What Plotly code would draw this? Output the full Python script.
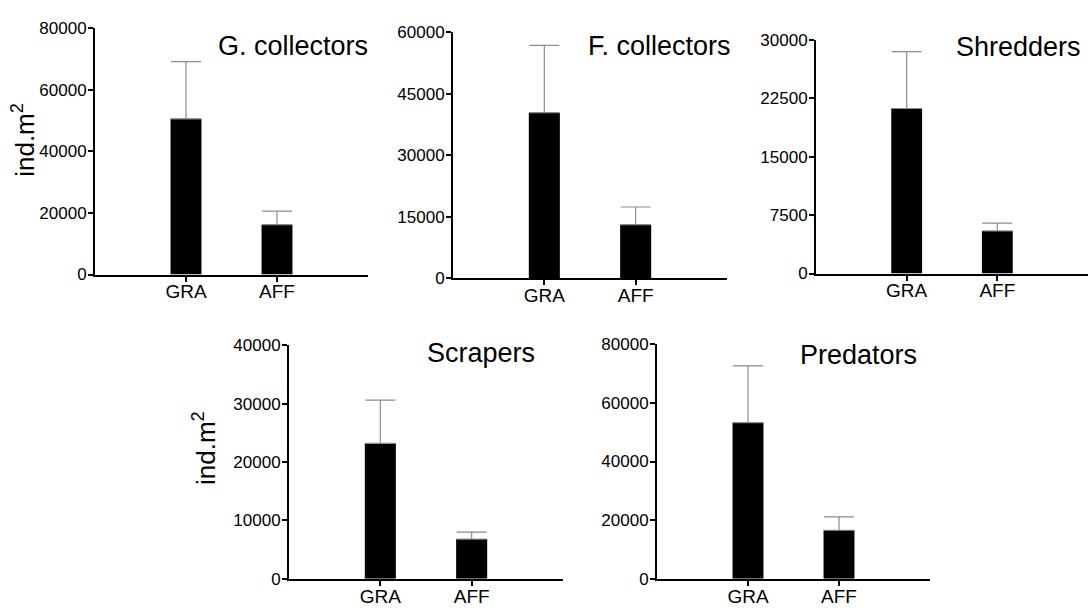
import plotly.graph_objects as go

# ---------------- data ----------------
categories = ["GRA", "AFF"]
panel_titles = ["G. collectors", "F. collectors", "Shredders", "Scrapers", "Predators"]

g_collectors = [50600, 16200]
g_collectors_err = [18600, 4400]
f_collectors = [40400, 13100]
f_collectors_err = [16400, 4300]
shredders = [21200, 5480]
shredders_err = [7300, 1000]
scrapers = [23200, 6800]
scrapers_err = [7400, 1200]
predators = [53300, 16550]
predators_err = [19300, 4550]

y_max = [80000, 60000, 30000, 40000, 80000]
y_dtick = [20000, 15000, 7500, 10000, 20000]
y_label = "ind.m<sup>2</sup>"

values = [g_collectors, f_collectors, shredders, scrapers, predators]
errors = [g_collectors_err, f_collectors_err, shredders_err, scrapers_err, predators_err]

# ---------------- layout (pixels) ----------------
W, H = 1091, 613
# (x_left, x_right, y_top, y_bottom) of each plotting area
boxes = [(95, 368, 20, 274), (453, 727, 24, 278), (816, 1088, 32, 273),
         (289, 563, 347, 588), (657, 930, 346, 588)]
title_pos = [(370, 38), (733, 38), (1083, 39), (537, 355), (919, 357)]
ylabel_pos = [(24, 135), (205, 453)]

FONT = "Arial, Liberation Sans, sans-serif"

fig = go.Figure()
layout = dict(
    width=W, height=H,
    margin=dict(l=0, r=0, t=0, b=0),
    paper_bgcolor="white", plot_bgcolor="white",
    showlegend=False, bargap=0.66,
    font=dict(family=FONT, color="black"),
)
annotations = []

for i in range(5):
    sfx = "" if i == 0 else str(i + 1)
    fig.add_trace(go.Bar(
        x=categories, y=values[i],
        xaxis="x" + sfx, yaxis="y" + sfx,
        marker=dict(color="black", line=dict(color="black", width=0)),
        error_y=dict(type="data", symmetric=False, array=errors[i],
                     arrayminus=[0, 0], color="#8c8c8c", thickness=1.2, width=15),
    ))
    x0, x1, yt, yb = boxes[i]
    layout["xaxis" + sfx] = dict(
        domain=[x0 / W, x1 / W], anchor="y" + sfx, type="category",
        categoryorder="array", categoryarray=categories,
        range=[-1, 2], showline=True, linecolor="black", linewidth=2,
        ticks="outside", ticklen=5, tickwidth=1.5, tickcolor="black",
        showgrid=False, zeroline=False, ticklabelstandoff=-6,
        tickfont=dict(size=19, family=FONT, color="black"),
    )
    layout["yaxis" + sfx] = dict(
        domain=[1 - yb / H, 1 - yt / H], anchor="x" + sfx,
        range=[0, y_max[i]], dtick=y_dtick[i], tick0=0,
        showline=True, linecolor="black", linewidth=2,
        ticks="outside", ticklen=5, tickwidth=1.5, tickcolor="black",
        showgrid=False, zeroline=False, tickformat="d", ticklabelstandoff=-2,
        tickfont=dict(size=17, family=FONT, color="black"),
    )
    tx, ty = title_pos[i]
    annotations.append(dict(
        text=panel_titles[i], xref="paper", yref="paper",
        x=tx / W, y=1 - ty / H, xanchor="right", yanchor="middle",
        showarrow=False, font=dict(size=27, family=FONT, color="black"),
    ))

for lx, ly in ylabel_pos:
    annotations.append(dict(
        text=y_label, xref="paper", yref="paper",
        x=lx / W, y=1 - ly / H, xanchor="center", yanchor="middle",
        textangle=-90, showarrow=False,
        font=dict(size=26, family=FONT, color="black"),
    ))

layout["annotations"] = annotations
fig.update_layout(**layout)
fig.write_html("out.html")
